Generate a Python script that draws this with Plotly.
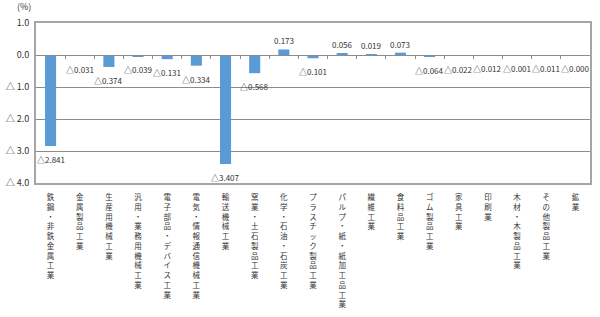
import plotly.graph_objects as go

categories = ["鉄鋼・非鉄金属工業", "金属製品工業", "生産用機械工業", "汎用・業務用機械工業",
              "電子部品・デバイス工業", "電気・情報通信機械工業", "輸送機械工業", "窯業・土石製品工業",
              "化学・石油・石炭工業", "プラスチック製品工業", "パルプ・紙・紙加工品工業", "繊維工業",
              "食料品工業", "ゴム製品工業", "家具工業", "印刷業", "木材・木製品工業", "その他製品工業", "鉱業"]
values = [-2.841, -0.031, -0.374, -0.039, -0.131, -0.334, -3.407, -0.568,
          0.173, -0.101, 0.056, 0.019, 0.073, -0.064, -0.022, -0.012, -0.001, -0.011, -0.0003]
labels = ["△2.841", "△0.031", "△0.374", "△0.039", "△0.131", "△0.334", "△3.407", "△0.568",
          "0.173", "△0.101", "0.056", "0.019", "0.073", "△0.064", "△0.022", "△0.012", "△0.001", "△0.011", "△0.000"]
y_tickvals = [1, 0, -1, -2, -3, -4]
y_ticktext = ["1.0", "0.0", "△ 1.0", "△ 2.0", "△ 3.0", "△ 4.0"]

FONT = "Noto Sans CJK JP"
xs = list(range(len(categories)))
vert = ["<br>".join(list(c)) for c in categories]

fig = go.Figure()
fig.add_trace(go.Bar(
    x=xs, y=values, width=0.38, marker=dict(color="#5B9BD5", line=dict(width=0)),
))
fig.add_trace(go.Scatter(x=[], y=[], xaxis="x2", yaxis="y", showlegend=False))

annos = []
for xi, v, lab in zip(xs, values, labels):
    neg = lab.startswith("△")
    annos.append(dict(x=xi, y=v, xref="x", yref="y", text=lab, showarrow=False,
                      xanchor="center", yanchor="top" if neg else "bottom",
                      yshift=-6 if neg else 1,
                      font=dict(family=FONT, size=8, color="#333333")))
annos.append(dict(text="(%)", xref="paper", yref="paper", x=-0.005, y=1.05,
                  xanchor="right", yanchor="bottom", showarrow=False,
                  font=dict(family=FONT, size=9, color="#333333")))

fig.update_layout(
    width=600, height=317,
    margin=dict(l=36, r=10, t=23, b=134),
    paper_bgcolor="white", plot_bgcolor="white",
    showlegend=False,
    font=dict(family=FONT, color="#333333"),
    xaxis=dict(range=[-0.5, len(categories) - 0.5], tickvals=xs, ticktext=vert,
               tickangle=0, tickfont=dict(family=FONT, size=7.5, color="#333333"),
               showgrid=False, zeroline=False, showline=True, mirror=True,
               linecolor="#a6a6a6", linewidth=2, ticks="", automargin=False,
               ticklabelstandoff=6),
    xaxis2=dict(overlaying="x", anchor="free", position=0.8, side="bottom",
                range=[-0.5, len(categories) - 0.5],
                tickvals=[i + 0.5 for i in xs[:-1]], showticklabels=False,
                ticks="outside", ticklen=3, tickcolor="#8c8c8c", tickwidth=1,
                showline=True, linecolor="#8c8c8c", linewidth=1, showgrid=False,
                zeroline=False, automargin=False),
    yaxis=dict(range=[-4, 1], tickvals=y_tickvals, ticktext=y_ticktext,
               tickfont=dict(family=FONT, size=9, color="#333333"),
               showgrid=True, gridcolor="#8c8c8c", gridwidth=1, zeroline=False,
               showline=True, mirror=True, linecolor="#a6a6a6", linewidth=2, ticks="",
               ticklabelstandoff=3, automargin=False),
    annotations=annos,
)

fig.write_html("out.html")
